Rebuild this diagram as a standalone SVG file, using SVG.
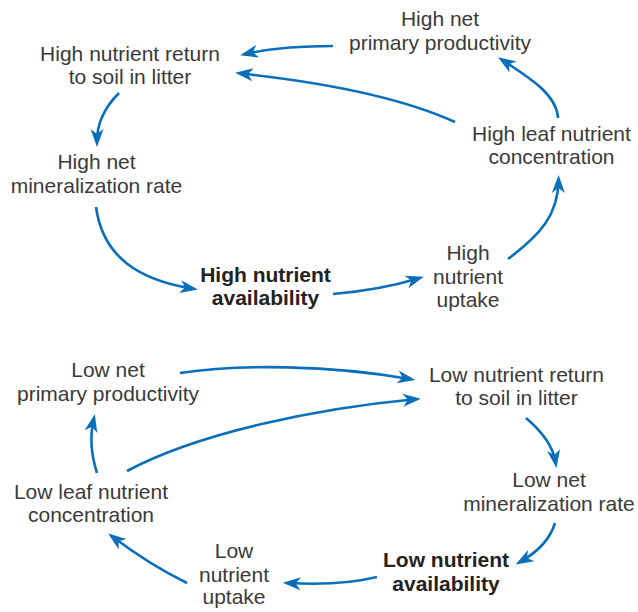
<svg xmlns="http://www.w3.org/2000/svg" width="638" height="612" viewBox="0 0 638 612">
<defs>
<style>
.t{font-family:"Liberation Sans",Arial,sans-serif;font-size:21px;fill:#3a3a3a;text-anchor:middle}
.b{font-weight:bold;fill:#222}
.c{fill:none;stroke:#0a6fba;stroke-width:2.6;marker-end:url(#ah)}
</style>
<marker id="ah" markerUnits="userSpaceOnUse" markerWidth="30" markerHeight="30" refX="0" refY="0" orient="auto" overflow="visible">
<path d="M6,0 L-12,-6.5 L-7,0 L-12,6.5 Z" fill="#0a6fba"/>
</marker>
</defs>
<rect width="638" height="612" fill="#fff"/>
<g id="connectors">
<path class="c" d="M333,46 Q280,46 246,54"/>
<path class="c" d="M455,122 C400,97 320,82 241,73.5"/>
<path class="c" d="M119,93 Q97,115 97,141"/>
<path class="c" d="M96,207 C103,258 140,280 192,288.5"/>
<path class="c" d="M333,294 Q380,290 418,278.5"/>
<path class="c" d="M508,259 C540,235 558,215 558.5,181"/>
<path class="c" d="M558,118 C557,95 530,78 503,60.5"/>
<path class="c" d="M180,373 C240,364 330,365 409.5,379"/>
<path class="c" d="M127,471 C200,432 320,408 414.8,399.2"/>
<path class="c" d="M97,473 Q88,445 93.5,420"/>
<path class="c" d="M526,418 Q552,440 555.5,462"/>
<path class="c" d="M555,523 Q548,546 520.8,561.5"/>
<path class="c" d="M377,577 Q340,586 288.7,583"/>
<path class="c" d="M187,583 Q150,565 113,537"/>
</g>
<g id="high-npp"><text class="t" x="440" y="26">High net</text><text class="t" x="440" y="50">primary productivity</text></g>
<g id="high-return"><text class="t" x="130" y="61">High nutrient return</text><text class="t" x="130" y="84">to soil in litter</text></g>
<g id="high-mineralization"><text class="t" x="96.5" y="169">High net</text><text class="t" x="96.5" y="193">mineralization rate</text></g>
<g id="high-availability"><text class="t b" x="265.5" y="282">High nutrient</text><text class="t b" x="265.5" y="305">availability</text></g>
<g id="high-uptake"><text class="t" x="468" y="260">High</text><text class="t" x="468" y="284">nutrient</text><text class="t" x="468" y="307">uptake</text></g>
<g id="high-leaf"><text class="t" x="551.5" y="141">High leaf nutrient</text><text class="t" x="551.5" y="164">concentration</text></g>
<g id="low-npp"><text class="t" x="108" y="377">Low net</text><text class="t" x="108" y="401">primary productivity</text></g>
<g id="low-return"><text class="t" x="516.5" y="382">Low nutrient return</text><text class="t" x="516.5" y="405">to soil in litter</text></g>
<g id="low-mineralization"><text class="t" x="549" y="487">Low net</text><text class="t" x="549" y="511">mineralization rate</text></g>
<g id="low-availability"><text class="t b" x="446" y="567">Low nutrient</text><text class="t b" x="446" y="591">availability</text></g>
<g id="low-uptake"><text class="t" x="234" y="558">Low</text><text class="t" x="234" y="582">nutrient</text><text class="t" x="234" y="604">uptake</text></g>
<g id="low-leaf"><text class="t" x="91" y="499">Low leaf nutrient</text><text class="t" x="91" y="522">concentration</text></g>
</svg>
